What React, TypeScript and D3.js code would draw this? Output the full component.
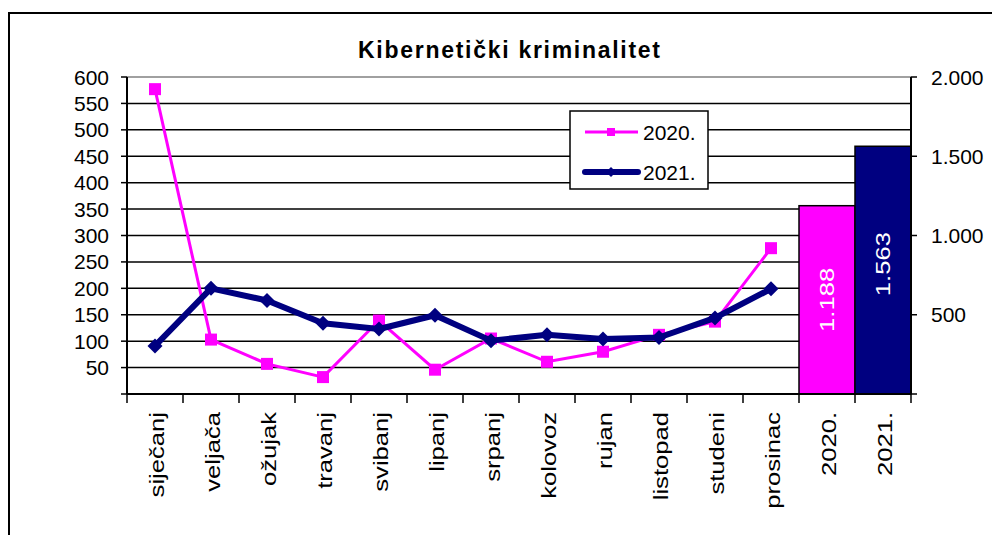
import * as d3 from "d3";

const months = [
  "siječanj",
  "veljača",
  "ožujak",
  "travanj",
  "svibanj",
  "lipanj",
  "srpanj",
  "kolovoz",
  "rujan",
  "listopad",
  "studeni",
  "prosinac",
];
const years = ["2020.", "2021."];
const values2020 = [577, 103, 57, 32, 139, 46, 105, 61, 80, 112, 137, 276];
const values2021 = [91, 200, 177, 134, 123, 149, 101, 112, 104, 107, 144, 199];
const yearTotals = [1188, 1563];
const yearColors = ["#ff00ff", "#000080"];

const font = "'Liberation Sans', Arial, sans-serif";
const categories = [...months, ...years];

const x = d3.scaleBand<string>().domain(categories).range([127, 911]).padding(0);
const yLeft = d3.scaleLinear().domain([0, 600]).range([394, 77]);
const yRight = d3.scaleLinear().domain([0, 2000]).range([394, 77]);

const hr = d3.formatLocale({ decimal: ",", thousands: ".", grouping: [3], currency: ["", ""] });
const fmt = hr.format(",d");

const cx = (m: string) => (x(m) ?? 0) + x.bandwidth() / 2;

const line = d3
  .line<number>()
  .x((_d, i) => cx(months[i]))
  .y((d) => yLeft(d));

const diamond = (s: number) => `M0,${-s}L${s},0L0,${s}L${-s},0Z`;

// rotated text in the original is drawn a bit wider along its baseline
const stretch = "scale(1.22,1)";

const App = () => {
  const left = x.range()[0];
  const right = x.range()[1];
  const base = yLeft(0);
  const boundaries = [...categories.map((c) => x(c) ?? 0), right];

  return (
    <svg
      width={992}
      height={535}
      style={{ position: "absolute", left: 0, top: 0, background: "#fff" }}
      fontFamily={font}
    >
      <rect x={0} y={0} width={992} height={535} fill="#fff" />
      {/* outer frame */}
      <rect x={9} y={13} width={1000} height={560} fill="none" stroke="#000" strokeWidth={2} />

      <text
        x={509}
        y={58}
        textAnchor="middle"
        fontSize={23}
        fontWeight="bold"
        textLength={302}
        lengthAdjust="spacing"
      >
        Kibernetički kriminalitet
      </text>

      {/* gridlines */}
      {yLeft.ticks(12).filter((t) => t > 0).map((t) => (
        <line
          key={t}
          x1={left}
          x2={right}
          y1={yLeft(t)}
          y2={yLeft(t)}
          stroke={t === 600 ? "#808080" : "#000"}
          strokeWidth={1.5}
        />
      ))}

      {/* yearly totals on right axis */}
      {years.map((yr, i) => (
        <g key={yr}>
          <rect
            x={x(yr)}
            y={yRight(yearTotals[i])}
            width={x.bandwidth()}
            height={base - yRight(yearTotals[i])}
            fill={yearColors[i]}
            stroke="#000"
            strokeWidth={1.5}
          />
          <text
            transform={`translate(${cx(yr) + 7},${(yRight(yearTotals[i]) + base) / 2 - (i === 1 ? 6 : 0)}) rotate(-90) ${stretch}`}
            textAnchor="middle"
            fontSize={21}
            fill="#fff"
          >
            {fmt(yearTotals[i])}
          </text>
        </g>
      ))}

      {/* left axis */}
      <line x1={left} x2={left} y1={yLeft(600)} y2={base} stroke="#000" strokeWidth={2} />
      {yLeft.ticks(12).map((t) => (
        <g key={t} transform={`translate(0,${yLeft(t)})`}>
          <line x1={left - 6} x2={left} stroke="#000" strokeWidth={1.5} />
          {t > 0 && (
            <text x={109} dy="0.36em" textAnchor="end" fontSize={21}>
              {t}
            </text>
          )}
        </g>
      ))}

      {/* right axis */}
      <line x1={right} x2={right} y1={yRight(2000)} y2={base} stroke="#000" strokeWidth={2} />
      {yRight.ticks(4).map((t) => (
        <g key={t} transform={`translate(0,${yRight(t)})`}>
          <line x1={right} x2={right + 6} stroke="#000" strokeWidth={1.5} />
          {t > 0 && (
            <text x={931} dy="0.36em" fontSize={21}>
              {fmt(t)}
            </text>
          )}
        </g>
      ))}

      {/* x axis */}
      <line x1={left} x2={right} y1={base} y2={base} stroke="#000" strokeWidth={2} />
      {boundaries.map((b, i) => (
        <line key={i} x1={b} x2={b} y1={base} y2={base + 9} stroke="#000" strokeWidth={1.5} />
      ))}
      {categories.map((c) => (
        <text
          key={c}
          transform={`translate(${cx(c) + 9},412) rotate(-90) ${stretch}`}
          textAnchor="end"
          fontSize={21}
        >
          {c}
        </text>
      ))}

      {/* 2020 line */}
      <path d={line(values2020) ?? ""} fill="none" stroke={yearColors[0]} strokeWidth={3} />
      {values2020.map((v, i) => (
        <rect key={i} x={cx(months[i]) - 6} y={yLeft(v) - 6} width={12} height={12} fill={yearColors[0]} />
      ))}

      {/* 2021 line */}
      <path
        d={line(values2021) ?? ""}
        fill="none"
        stroke={yearColors[1]}
        strokeWidth={6}
        strokeLinejoin="round"
      />
      {values2021.map((v, i) => (
        <path
          key={i}
          d={diamond(7.5)}
          transform={`translate(${cx(months[i])},${yLeft(v)})`}
          fill={yearColors[1]}
        />
      ))}

      {/* legend */}
      <rect x={570} y={111} width={138} height={78} fill="#fff" stroke="#000" strokeWidth={1.5} />
      <line x1={585} x2={638} y1={132} y2={132} stroke={yearColors[0]} strokeWidth={3} />
      <rect x={607} y={128} width={8} height={8} fill={yearColors[0]} />
      <text x={643} y={132} dy="0.36em" fontSize={21}>
        {years[0]}
      </text>
      <line
        x1={585}
        x2={638}
        y1={172}
        y2={172}
        stroke={yearColors[1]}
        strokeWidth={6}
        strokeLinecap="round"
      />
      <path d={diamond(5)} transform="translate(611,172)" fill={yearColors[1]} />
      <text x={643} y={172} dy="0.36em" fontSize={21}>
        {years[1]}
      </text>
    </svg>
  );
};

export default App;
